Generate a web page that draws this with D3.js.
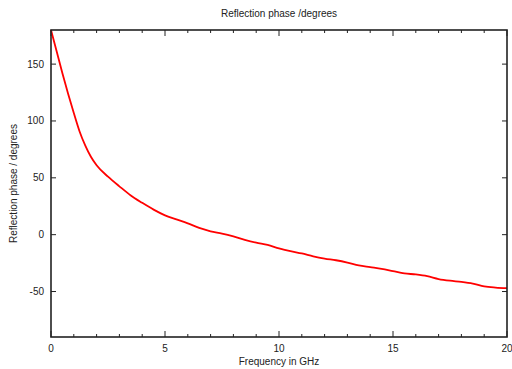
<!DOCTYPE html>
<html>
<head>
<meta charset="utf-8">
<script src="https://cdn.jsdelivr.net/npm/d3@7"></script>
<style>
  body { margin: 0; background: #fff; }
  text { font-family: "Liberation Sans", Arial, sans-serif; fill: #222; }
</style>
</head>
<body>
<div id="chart"></div>
<script>
// Frequency (GHz) and reflection phase (degrees)
const freq = [0, 0.25, 0.5, 0.75, 1, 1.25, 1.5, 1.75, 2, 2.5, 3, 3.5, 4, 4.5, 5, 5.5, 6, 6.5, 7, 7.5,
              8, 8.5, 9, 9.5, 10, 10.5, 11, 11.5, 12, 12.5, 13, 13.5, 14, 14.5, 15, 15.5, 16, 16.5,
              17, 17.5, 18, 18.5, 19, 19.5, 20];
const phase = [180, 161, 142, 124, 107, 91, 78.5, 68.5, 61, 51, 42.5, 34.5, 28, 22, 17, 13.5, 10, 6, 3, 1,
               -1.5, -4.5, -7, -9, -12, -14.5, -16.5, -19, -21, -22.5, -24.5, -27, -28.5, -30, -32, -34, -35, -36.5,
               -39, -40.5, -41.5, -43, -45.5, -46.5, -47];
const xTicks = [0, 5, 10, 15, 20];
const xMinor = d3.range(0, 21, 1);
const yTicks = [-50, 0, 50, 100, 150];

const width = 512, height = 369;
const margin = { left: 51, right: 5, top: 30, bottom: 32 };

const svg = d3.select('#chart').append('svg')
    .attr('width', width)
    .attr('height', height);

const x = d3.scaleLinear().domain([0, 20]).range([margin.left, width - margin.right]);
const y = d3.scaleLinear().domain([-90, 180]).range([height - margin.bottom, margin.top]);

const axisColor = '#222';

// Tick marks (inward, mirrored on all sides)
const ticks = svg.append('g').attr('stroke', axisColor).attr('stroke-width', 1);
xMinor.forEach(v => {
    const len = xTicks.includes(v) ? 6 : 3;
    ticks.append('line').attr('x1', x(v)).attr('x2', x(v))
        .attr('y1', y(-90)).attr('y2', y(-90) - len);
    ticks.append('line').attr('x1', x(v)).attr('x2', x(v))
        .attr('y1', y(180)).attr('y2', y(180) + len);
});
yTicks.forEach(v => {
    ticks.append('line').attr('x1', x(0)).attr('x2', x(0) + 5)
        .attr('y1', y(v)).attr('y2', y(v));
    ticks.append('line').attr('x1', x(20)).attr('x2', x(20) - 5)
        .attr('y1', y(v)).attr('y2', y(v));
});

// Data line
const line = d3.line()
    .x((d, i) => x(freq[i]))
    .y(d => y(d))
    .curve(d3.curveMonotoneX);

svg.append('path')
    .datum(phase)
    .attr('fill', 'none')
    .attr('stroke', '#f00')
    .attr('stroke-width', 1.8)
    .attr('d', line);

// Frame
svg.append('rect')
    .attr('x', x(0)).attr('y', y(180))
    .attr('width', x(20) - x(0)).attr('height', y(-90) - y(180))
    .attr('fill', 'none')
    .attr('stroke', axisColor)
    .attr('stroke-width', 1.6);

// Tick labels
svg.append('g').selectAll('text')
    .data(xTicks).enter().append('text')
    .attr('x', d => x(d))
    .attr('y', y(-90) + 15)
    .attr('text-anchor', 'middle')
    .attr('font-size', 10)
    .text(d => d);

svg.append('g').selectAll('text')
    .data(yTicks).enter().append('text')
    .attr('x', x(0) - 7)
    .attr('y', d => y(d) + 3.5)
    .attr('text-anchor', 'end')
    .attr('font-size', 10)
    .text(d => d);

// Titles
const midX = (x(0) + x(20)) / 2;
svg.append('text')
    .attr('x', midX).attr('y', 17)
    .attr('text-anchor', 'middle')
    .attr('font-size', 10)
    .text('Reflection phase /degrees');

svg.append('text')
    .attr('x', midX).attr('y', 365)
    .attr('text-anchor', 'middle')
    .attr('font-size', 10)
    .text('Frequency in GHz');

svg.append('text')
    .attr('transform', `translate(17, ${(y(180) + y(-90)) / 2}) rotate(-90)`)
    .attr('text-anchor', 'middle')
    .attr('font-size', 10)
    .text('Reflection phase / degrees');
</script>
</body>
</html>
